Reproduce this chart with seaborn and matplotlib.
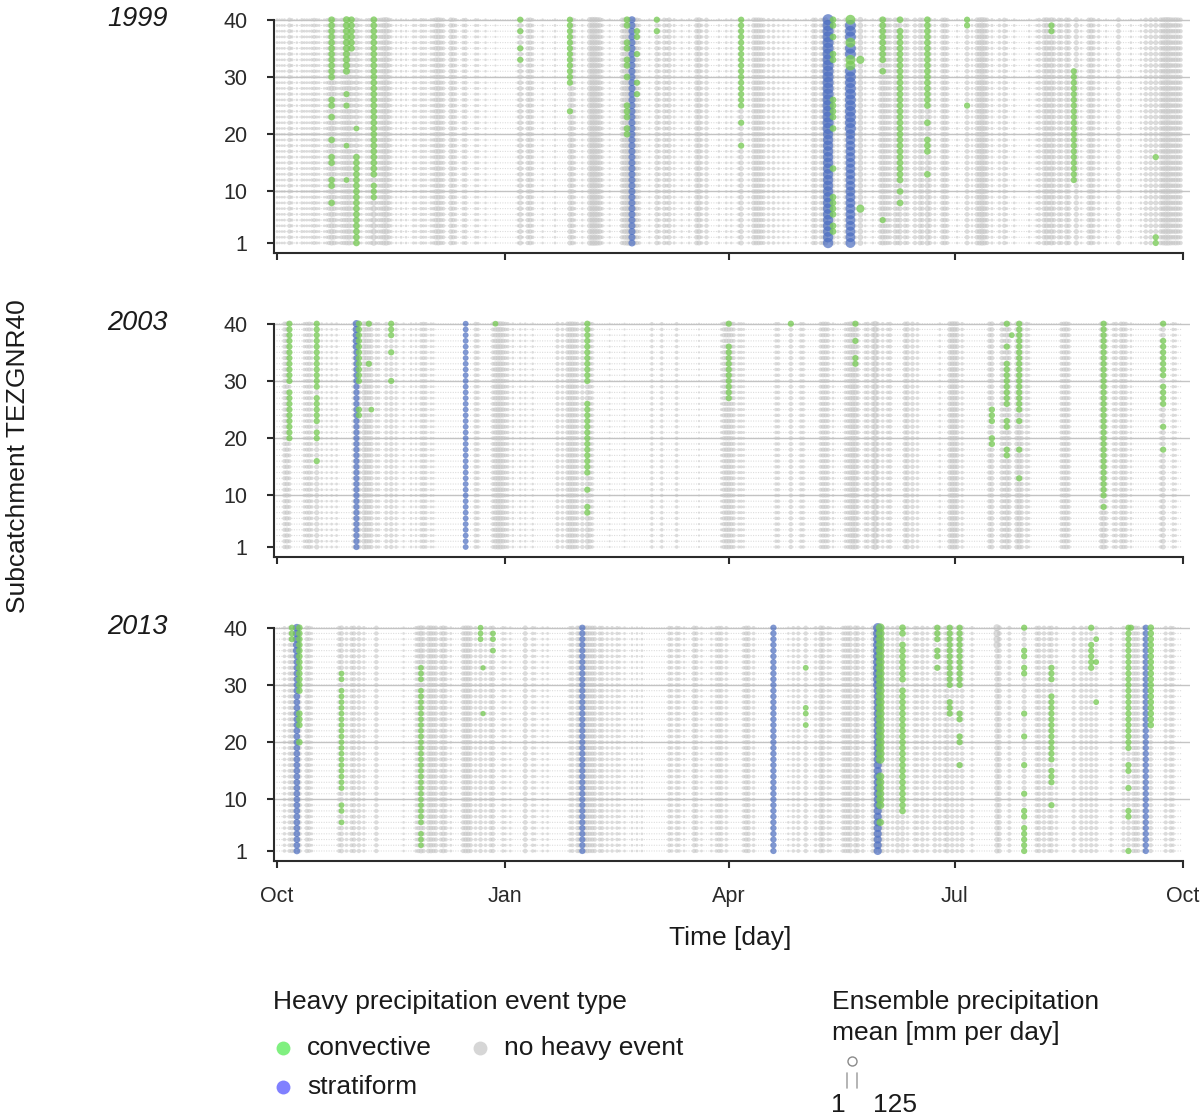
import numpy as np
import pandas as pd
import matplotlib
matplotlib.use("Agg")
import matplotlib.pyplot as plt
import seaborn as sns

# ---------------- data ----------------
years = ["1999", "2003", "2013"]
month_ticks = [0, 92, 182, 273, 365]
month_labels = ["Oct", "Jan", "Apr", "Jul", "Oct"]
sub_ticks = [1, 10, 20, 30, 40]

# (day since 1 Oct, ensemble mean mm/day) for days without heavy events
rain_1999 = [(0,6),(1,5),(2,5),(3,6),(5,16),(6,8),(8,5),(10,8),(11,6),(12,6),(13,5),(14,8),(15,13),(16,8),(17,6),(19,5),(20,8),(21,16),(22,24),(23,19),(24,10),(25,6),(26,13),(27,16),(28,19),(29,22),(30,16),(31,10),(32,19),(33,8),(34,6),(36,8),(37,10),(38,13),(39,29),(40,10),(41,13),(42,16),(43,22),(44,26),(45,16),(46,8),(48,5),(50,6),(52,5),(55,8),(56,6),(58,10),(59,8),(60,6),(62,8),(63,10),(64,19),(65,22),(66,16),(67,13),(70,19),(71,16),(72,10),(75,10),(76,13),(80,8),(81,6),(84,5),(88,3),(97,6),(98,22),(99,5),(101,16),(102,19),(103,10),(107,5),(112,6),(118,22),(119,19),(120,8),(123,6),(126,26),(127,29),(128,29),(129,26),(130,22),(131,10),(134,5),(139,16),(140,22),(141,26),(142,29),(143,32),(144,22),(145,16),(146,10),(150,5),(153,19),(154,10),(156,16),(157,10),(158,19),(160,8),(163,5),(166,6),(169,19),(170,22),(171,10),(173,16),(178,5),(181,6),(183,6),(186,8),(187,22),(190,6),(192,19),(193,19),(194,19),(195,16),(196,13),(198,10),(200,10),(202,6),(204,6),(206,5),(209,5),(213,5),(216,16),(217,16),(219,13),(220,16),(221,22),(222,26),(224,22),(226,10),(229,16),(231,26),(233,10),(235,29),(237,6),(240,6),(243,16),(244,22),(245,19),(246,16),(247,13),(249,19),(250,16),(251,22),(253,16),(254,13),(257,16),(259,19),(260,16),(262,26),(263,16),(265,8),(268,16),(269,19),(270,13),(274,5),(278,19),(280,6),(282,19),(283,22),(284,26),(285,22),(286,16),(288,8),(291,10),(293,16),(294,6),(297,6),(303,5),(306,6),(307,13),(309,19),(310,22),(311,16),(312,22),(313,16),(315,16),(316,13),(318,19),(319,16),(322,22),(324,6),(327,16),(328,19),(329,13),(331,10),(334,5),(339,19),(344,5),(348,6),(350,16),(352,19),(354,22),(356,19),(357,22),(358,26),(359,26),(360,22),(361,19),(362,22),(363,19),(364,16)]
rain_2003 = [(3,16),(4,19),(5,13),(11,10),(12,13),(13,16),(14,10),(16,22),(18,6),(20,5),(22,6),(24,6),(31,13),(33,19),(35,22),(36,19),(37,16),(38,16),(40,10),(41,8),(44,13),(46,16),(48,10),(51,5),(54,6),(56,6),(58,10),(59,13),(60,10),(62,6),(63,5),(80,13),(81,10),(87,13),(88,19),(89,22),(90,22),(91,19),(92,13),(93,10),(95,6),(98,5),(100,5),(103,5),(113,13),(115,10),(117,16),(118,19),(119,19),(120,16),(121,13),(123,16),(125,22),(126,16),(127,10),(134,3),(140,3),(151,10),(155,10),(161,10),(170,3),(179,6),(180,16),(181,19),(182,19),(183,16),(184,13),(186,8),(187,8),(188,6),(201,10),(202,10),(207,16),(211,10),(212,10),(219,13),(220,16),(221,16),(222,13),(224,6),(229,10),(230,13),(231,19),(232,22),(233,22),(234,13),(237,10),(238,13),(240,16),(241,29),(242,13),(244,10),(246,10),(247,13),(253,16),(254,19),(256,16),(258,10),(267,6),(271,19),(272,22),(273,22),(274,19),(276,10),(287,16),(288,19),(292,16),(293,13),(294,22),(295,16),(298,19),(299,22),(300,16),(302,13),(303,6),(316,13),(317,16),(318,19),(319,13),(332,16),(333,22),(334,13),(337,10),(338,13),(340,16),(341,16),(342,13),(344,6),(356,10),(357,22),(361,10),(362,6)]
rain_2013 = [(3,10),(5,13),(6,16),(7,16),(9,19),(12,16),(13,13),(14,6),(25,13),(26,19),(28,10),(30,13),(31,16),(33,16),(35,10),(40,16),(51,5),(56,10),(57,16),(58,22),(59,16),(61,19),(62,19),(63,16),(64,16),(66,13),(67,19),(68,13),(70,6),(75,16),(76,19),(77,19),(78,16),(80,10),(82,16),(84,10),(86,13),(87,16),(91,10),(92,6),(94,6),(100,19),(103,10),(104,6),(107,6),(109,6),(118,10),(119,13),(121,16),(122,19),(124,19),(125,19),(126,16),(127,16),(128,16),(130,13),(131,13),(133,10),(135,10),(137,10),(138,6),(140,6),(143,5),(145,5),(147,5),(158,13),(159,10),(161,13),(162,10),(164,6),(168,16),(169,13),(171,6),(175,6),(177,10),(178,13),(179,13),(181,10),(188,10),(189,16),(190,16),(192,10),(199,6),(206,5),(208,10),(210,13),(213,16),(217,10),(219,19),(220,16),(222,10),(223,6),(228,13),(229,16),(230,16),(231,19),(233,19),(234,16),(236,13),(240,16),(241,19),(243,22),(244,16),(246,13),(248,10),(250,19),(252,19),(254,10),(257,13),(258,10),(260,16),(262,10),(265,16),(267,13),(269,10),(270,19),(272,16),(274,13),(276,16),(280,10),(290,22),(291,19),(295,13),(301,19),(306,13),(307,16),(309,16),(311,13),(312,16),(314,10),(321,13),(324,16),(326,13),(328,16),(330,13),(336,10),(341,13),(343,19),(345,16),(346,16),(347,13),(349,13),(352,16),(358,13),(360,13),(361,10)]

# large non-heavy values on a few subcatchments: (day, first sub, last sub, mm)
gray_2013 = [(290, 37, 40, 45)]

# heavy events: (day, first subcatchment, last subcatchment, mm/day)
conv_1999 = [(22,30,40,40),(22,25,26,40),(22,23,23,40),(22,19,19,40),(22,15,16,40),(22,11,12,40),(22,8,8,40),
             (28,31,40,45),(28,27,27,35),(28,25,25,35),(28,18,18,30),(28,12,12,30),(30,35,40,40),
             (32,21,21,30),(32,1,16,40),(39,17,40,40),(39,13,16,40),(39,9,11,35),
             (98,40,40,35),(98,38,38,35),(98,35,35,35),(98,33,33,35),(118,29,40,35),(118,24,24,35),
             (141,39,40,40),(141,35,36,40),(141,32,33,40),(141,30,30,40),(141,23,25,40),(141,20,21,40),
             (145,37,38,35),(145,34,34,35),(145,29,29,35),(145,27,27,35),(153,40,40,35),(153,38,38,35),
             (187,25,40,35),(187,22,22,35),(187,18,18,35),
             (224,39,40,40),(224,37,37,40),(224,33,34,40),(224,23,26,40),(224,21,21,40),(224,14,14,40),(224,6,9,40),(224,3,4,40),
             (231,40,40,90),(231,36,36,90),(231,32,33,90),(235,33,33,60),(235,7,7,60),
             (244,33,40,40),(244,31,31,40),(244,5,5,35),(251,40,40,40),(251,12,38,40),(251,10,10,40),(251,8,8,40),
             (262,25,40,40),(262,22,22,40),(262,17,19,40),(262,13,13,40),(278,39,40,35),(278,25,25,35),
             (312,38,39,35),(321,12,31,35),(354,16,16,35),(354,1,2,35)]
strat_1999 = [(143,1,40,45),(222,1,20,100),(222,21,40,115),(231,1,20,90),(231,21,40,110)]

conv_2003 = [(5,30,40,35),(5,20,28,35),(16,29,40,35),(16,23,27,35),(16,20,21,35),(16,16,16,35),
             (33,30,40,35),(33,24,25,35),(37,40,40,35),(37,33,33,35),(38,25,25,30),
             (46,38,40,35),(46,35,35,35),(46,30,30,35),(88,40,40,30),
             (125,30,40,35),(125,14,26,35),(125,11,11,35),(125,7,8,35),(182,40,40,35),(182,27,36,35),
             (207,40,40,35),(233,40,40,35),(233,37,37,35),(233,33,34,35),(288,23,25,35),(288,19,20,35),
             (294,40,40,35),(294,36,36,35),(294,26,33,35),(294,22,23,35),(294,17,18,35),(296,38,38,30),
             (299,25,40,35),(299,23,23,35),(299,18,18,35),(299,13,13,35),(333,10,40,35),(333,8,8,35),
             (357,40,40,35),(357,31,37,35),(357,26,29,35),(357,22,22,35),(357,18,18,35)]
strat_2003 = [(32,1,35,35),(32,36,40,50),(76,1,40,30)]

conv_2013 = [(6,38,40,35),(9,29,40,40),(9,23,25,40),(9,20,20,40),
             (26,31,32,30),(26,12,29,30),(26,8,9,30),(26,6,6,30),(58,31,33,30),(58,6,29,30),(58,2,4,30),
             (82,38,40,30),(83,33,33,25),(83,25,25,25),(87,38,39,30),(87,36,36,30),
             (213,33,33,30),(213,25,26,30),(213,23,23,30),(243,17,40,70),(243,9,14,60),(243,6,6,50),
             (252,39,40,40),(252,31,37,40),(252,8,29,40),(266,38,40,35),(266,35,36,35),(266,33,33,35),
             (271,30,40,35),(271,25,27,35),(275,30,40,35),(275,24,25,35),(275,20,21,35),(275,16,16,35),
             (301,40,40,35),(301,35,36,35),(301,32,33,35),(301,25,25,35),(301,21,21,35),(301,16,16,35),(301,11,11,35),(301,7,8,35),(301,1,5,35),
             (312,31,33,35),(312,17,28,35),(312,13,15,35),(312,9,9,35),(328,40,40,35),(328,33,37,35),
             (330,38,38,30),(330,34,34,30),(330,27,27,30),(343,19,40,35),(343,15,16,35),(343,12,12,35),(343,7,8,35),(343,1,1,35),
             (344,40,40,35),(352,23,40,40)]
strat_2013 = [(8,1,35,40),(8,36,40,55),(123,1,40,35),(200,1,40,35),(242,1,29,60),(242,30,40,80),(350,1,40,35)]

panels = [(rain_1999, [], conv_1999, strat_1999),
          (rain_2003, [], conv_2003, strat_2003),
          (rain_2013, gray_2013, conv_2013, strat_2013)]


def build(rain, gray, conv, strat):
    val = np.zeros((40, 365))
    typ = np.full((40, 365), "no heavy event", dtype=object)
    for d, v in rain:
        val[:, d] = v
    for d, lo, hi, v in gray:
        val[lo - 1:hi, d] = v
    for d, lo, hi, v in strat:
        val[lo - 1:hi, d] = v
        typ[lo - 1:hi, d] = "stratiform"
    for d, lo, hi, v in conv:
        val[lo - 1:hi, d] = v
        typ[lo - 1:hi, d] = "convective"
    sub, day = np.meshgrid(np.arange(1, 41), np.arange(365), indexing="ij")
    return pd.DataFrame({"day": day.ravel(), "sub": sub.ravel(),
                         "mm": val.ravel(), "type": typ.ravel()})


# ---------------- figure ----------------
sns.set_theme(style="white")
plt.rcParams["font.family"] = ["Liberation Sans", "DejaVu Sans"]

W, H = 1203, 1117
fig = plt.figure(figsize=(W / 100, H / 100), dpi=100)

styles = [("no heavy event", "#c2c2c2", 0.58),
          ("stratiform", "#4a6cc0", 0.7),
          ("convective", "#78ca56", 0.78)]
spine_c = "#2b2b2b"
tops = [14, 318, 622]
XL = (-1.21, 367.8)
YL = (-0.75, 41)

for i, (rain, gray, conv, strat) in enumerate(panels):
    df = build(rain, gray, conv, strat)
    top = tops[i]
    ax = fig.add_axes([274 / W, 1 - (top + 239) / H, 916 / W, 239 / H])
    for yv in [10, 20, 30, 40]:
        ax.axhline(yv, color="#c4c4c4", lw=1.0, zorder=0)
    for t, col, a in styles:
        sns.scatterplot(data=df[df["type"] == t], x="day", y="sub", size="mm",
                        sizes=(0.8, 70), size_norm=(0, 125), color=col, alpha=a,
                        linewidth=0, legend=False, ax=ax)
    ax.set_xlim(*XL)
    ax.set_ylim(*YL)
    ax.set_xlabel("")
    ax.set_ylabel("")
    for s in ["top", "right"]:
        ax.spines[s].set_visible(False)
    ax.spines["left"].set_bounds(YL[0], 40)
    ax.spines["bottom"].set_bounds(XL[0], 365)
    for s in ["left", "bottom"]:
        ax.spines[s].set_color(spine_c)
        ax.spines[s].set_linewidth(1.5)
    ax.set_yticks(sub_ticks)
    ax.set_yticklabels([str(v) for v in sub_ticks])
    ax.set_xticks(month_ticks)
    ax.set_xticklabels(month_labels if i == 2 else [""] * 5)
    ax.tick_params(axis="y", length=5, width=1.5, color=spine_c, pad=14,
                   labelsize=15.5, labelcolor="#2a2a2a", left=True)
    ax.tick_params(axis="x", length=5, width=1.5, color=spine_c, pad=13,
                   labelsize=15.5, labelcolor="#2a2a2a", bottom=True)
    ax.grid(False)

# overlay in pixel coordinates for titles and legends
ov = fig.add_axes([0, 0, 1, 1])
ov.set_xlim(0, W)
ov.set_ylim(H, 0)
ov.axis("off")
ov.patch.set_alpha(0)

tc = "#1a1a1a"
fs = 19
for yr, top in zip(years, tops):
    ov.text(168, top + 12, yr, ha="right", va="baseline", fontsize=19.5,
            style="italic", color=tc)
ov.text(730, 945, "Time [day]", ha="center", va="baseline", fontsize=fs, color=tc)
ov.text(18, 456, "Subcatchment TEZGNR40", ha="center", va="center",
        rotation=90, fontsize=fs, color=tc)

# colour legend
ov.text(273, 1009, "Heavy precipitation event type", ha="left", va="baseline",
        fontsize=fs, color=tc)
leg_items = [("convective", "#80f080", 283, 1048),
             ("no heavy event", "#d6d6d6", 480, 1048),
             ("stratiform", "#8080ff", 283, 1087)]
for lab, col, x, y in leg_items:
    ov.plot([x], [y], "o", ms=10, color=col, mec="none")
    ov.text(x + 24, y + 7, lab, ha="left", va="baseline", fontsize=fs, color=tc)

# size legend
ov.text(832, 1009, "Ensemble precipitation", ha="left", va="baseline", fontsize=fs, color=tc)
ov.text(832, 1040, "mean [mm per day]", ha="left", va="baseline", fontsize=fs, color=tc)
ov.plot([852], [1061], "o", ms=6.5, mfc="none", mec="#8a8a8a", mew=1.0)
ov.plot([847, 847], [1073, 1088], color="#a8a8a8", lw=1.2)
ov.plot([857, 857], [1073, 1088], color="#a8a8a8", lw=1.2)
ov.text(838, 1112, "1", ha="center", va="baseline", fontsize=fs, color=tc)
ov.text(873, 1112, "125", ha="left", va="baseline", fontsize=fs, color=tc)

fig.savefig("out.png", dpi=100)
